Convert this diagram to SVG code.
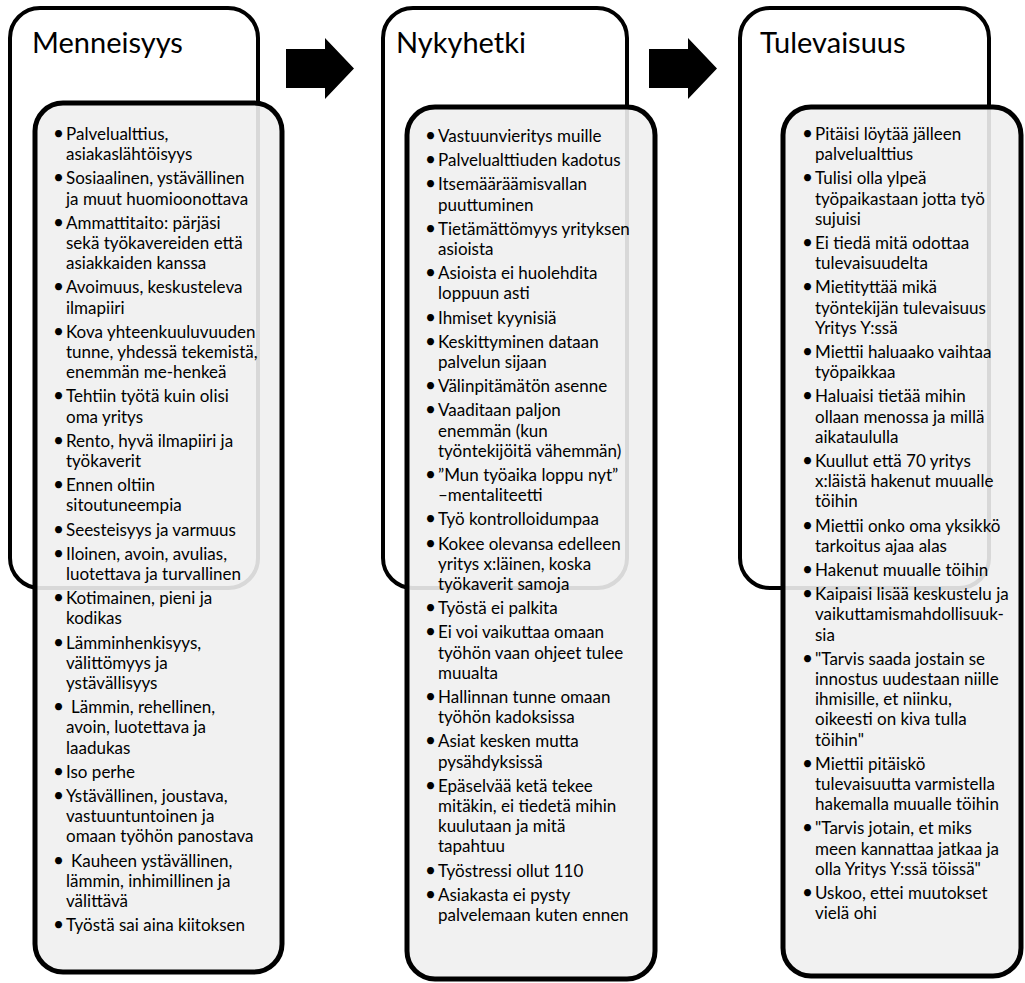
<svg xmlns="http://www.w3.org/2000/svg" width="1025" height="983" viewBox="0 0 1025 983">
<style>
.outer{fill:#ffffff;stroke:#000;stroke-width:4}
.inner{fill:#f0f0f0;fill-opacity:0.9;stroke:#000;stroke-width:5}
.title{font-family:Lato,"Liberation Sans",sans-serif;font-size:29px;fill:#000}
.b{font-family:Lato,"Liberation Sans",sans-serif;font-size:17px;fill:#000}
.d{font-size:19px}
.arrow{fill:#000}
</style>
<rect width="1025" height="983" fill="#fff"/>
<g id="connectors">
<polygon class="arrow" points="286,49 325,49 325,38 354,68.5 325,99 325,88 286,88"/>
<polygon class="arrow" points="649,49 688,49 688,38 717,68.5 688,99 688,88 649,88"/>
</g>
<g id="menneisyys">
<rect class="outer" x="10" y="8" width="248" height="580" rx="30"/>
<text class="title" x="32" y="53">Menneisyys</text>
<rect class="inner" x="35" y="103" width="247" height="869" rx="28"/>
<text class="b" y="140"><tspan class="d" x="53">•</tspan><tspan x="66">Palvelualttius,</tspan><tspan x="66" dy="20.2">asiakaslähtöisyys</tspan></text>
<text class="b" y="184.4"><tspan class="d" x="53">•</tspan><tspan x="66">Sosiaalinen, ystävällinen</tspan><tspan x="66" dy="20.2">ja muut huomioonottava</tspan></text>
<text class="b" y="228.8"><tspan class="d" x="53">•</tspan><tspan x="66">Ammattitaito: pärjäsi</tspan><tspan x="66" dy="20.2">sekä työkavereiden että</tspan><tspan x="66" dy="20.2">asiakkaiden kanssa</tspan></text>
<text class="b" y="293.4"><tspan class="d" x="53">•</tspan><tspan x="66">Avoimuus, keskusteleva</tspan><tspan x="66" dy="20.2">ilmapiiri</tspan></text>
<text class="b" y="337.8"><tspan class="d" x="53">•</tspan><tspan x="66">Kova yhteenkuuluvuuden</tspan><tspan x="66" dy="20.2">tunne, yhdessä tekemistä,</tspan><tspan x="66" dy="20.2">enemmän me-henkeä</tspan></text>
<text class="b" y="402.4"><tspan class="d" x="53">•</tspan><tspan x="66">Tehtiin työtä kuin olisi</tspan><tspan x="66" dy="20.2">oma yritys</tspan></text>
<text class="b" y="446.8"><tspan class="d" x="53">•</tspan><tspan x="66">Rento, hyvä ilmapiiri ja</tspan><tspan x="66" dy="20.2">työkaverit</tspan></text>
<text class="b" y="491.2"><tspan class="d" x="53">•</tspan><tspan x="66">Ennen oltiin</tspan><tspan x="66" dy="20.2">sitoutuneempia</tspan></text>
<text class="b" y="535.6"><tspan class="d" x="53">•</tspan><tspan x="66">Seesteisyys ja varmuus</tspan></text>
<text class="b" y="559.8"><tspan class="d" x="53">•</tspan><tspan x="66">Iloinen, avoin, avulias,</tspan><tspan x="66" dy="20.2">luotettava ja turvallinen</tspan></text>
<text class="b" y="604.2"><tspan class="d" x="53">•</tspan><tspan x="66">Kotimainen, pieni ja</tspan><tspan x="66" dy="20.2">kodikas</tspan></text>
<text class="b" y="648.6"><tspan class="d" x="53">•</tspan><tspan x="66">Lämminhenkisyys,</tspan><tspan x="66" dy="20.2">välittömyys ja</tspan><tspan x="66" dy="20.2">ystävällisyys</tspan></text>
<text class="b" y="713.2"><tspan class="d" x="53">•</tspan><tspan x="71">Lämmin, rehellinen,</tspan><tspan x="66" dy="20.2">avoin, luotettava ja</tspan><tspan x="66" dy="20.2">laadukas</tspan></text>
<text class="b" y="777.8"><tspan class="d" x="53">•</tspan><tspan x="66">Iso perhe</tspan></text>
<text class="b" y="802"><tspan class="d" x="53">•</tspan><tspan x="66">Ystävällinen, joustava,</tspan><tspan x="66" dy="20.2">vastuuntuntoinen ja</tspan><tspan x="66" dy="20.2">omaan työhön panostava</tspan></text>
<text class="b" y="866.6"><tspan class="d" x="53">•</tspan><tspan x="71">Kauheen ystävällinen,</tspan><tspan x="66" dy="20.2">lämmin, inhimillinen ja</tspan><tspan x="66" dy="20.2">välittävä</tspan></text>
<text class="b" y="931.2"><tspan class="d" x="53">•</tspan><tspan x="66">Työstä sai aina kiitoksen</tspan></text>
</g>
<g id="nykyhetki">
<rect class="outer" x="383" y="8" width="244" height="580" rx="30"/>
<text class="title" x="396" y="53">Nykyhetki</text>
<rect class="inner" x="407" y="107" width="248" height="872" rx="28"/>
<text class="b" y="142"><tspan class="d" x="425">•</tspan><tspan x="438">Vastuunvieritys muille</tspan></text>
<text class="b" y="166.2"><tspan class="d" x="425">•</tspan><tspan x="438">Palvelualttiuden kadotus</tspan></text>
<text class="b" y="190.4"><tspan class="d" x="425">•</tspan><tspan x="438">Itsemääräämisvallan</tspan><tspan x="438" dy="20.2">puuttuminen</tspan></text>
<text class="b" y="234.8"><tspan class="d" x="425">•</tspan><tspan x="438">Tietämättömyys yrityksen</tspan><tspan x="438" dy="20.2">asioista</tspan></text>
<text class="b" y="279.2"><tspan class="d" x="425">•</tspan><tspan x="438">Asioista ei huolehdita</tspan><tspan x="438" dy="20.2">loppuun asti</tspan></text>
<text class="b" y="323.6"><tspan class="d" x="425">•</tspan><tspan x="438">Ihmiset kyynisiä</tspan></text>
<text class="b" y="347.8"><tspan class="d" x="425">•</tspan><tspan x="438">Keskittyminen dataan</tspan><tspan x="438" dy="20.2">palvelun sijaan</tspan></text>
<text class="b" y="392.2"><tspan class="d" x="425">•</tspan><tspan x="438">Välinpitämätön asenne</tspan></text>
<text class="b" y="416.4"><tspan class="d" x="425">•</tspan><tspan x="438">Vaaditaan paljon</tspan><tspan x="438" dy="20.2">enemmän (kun</tspan><tspan x="438" dy="20.2">työntekijöitä vähemmän)</tspan></text>
<text class="b" y="481"><tspan class="d" x="425">•</tspan><tspan x="438">”Mun työaika loppu nyt”</tspan><tspan x="438" dy="20.2">–mentaliteetti</tspan></text>
<text class="b" y="525.4"><tspan class="d" x="425">•</tspan><tspan x="438">Työ kontrolloidumpaa</tspan></text>
<text class="b" y="549.6"><tspan class="d" x="425">•</tspan><tspan x="438">Kokee olevansa edelleen</tspan><tspan x="438" dy="20.2">yritys x:läinen, koska</tspan><tspan x="438" dy="20.2">työkaverit samoja</tspan></text>
<text class="b" y="614.2"><tspan class="d" x="425">•</tspan><tspan x="438">Työstä ei palkita</tspan></text>
<text class="b" y="638.4"><tspan class="d" x="425">•</tspan><tspan x="438">Ei voi vaikuttaa omaan</tspan><tspan x="438" dy="20.2">työhön vaan ohjeet tulee</tspan><tspan x="438" dy="20.2">muualta</tspan></text>
<text class="b" y="703"><tspan class="d" x="425">•</tspan><tspan x="438">Hallinnan tunne omaan</tspan><tspan x="438" dy="20.2">työhön kadoksissa</tspan></text>
<text class="b" y="747.4"><tspan class="d" x="425">•</tspan><tspan x="438">Asiat kesken mutta</tspan><tspan x="438" dy="20.2">pysähdyksissä</tspan></text>
<text class="b" y="791.8"><tspan class="d" x="425">•</tspan><tspan x="438">Epäselvää ketä tekee</tspan><tspan x="438" dy="20.2">mitäkin, ei tiedetä mihin</tspan><tspan x="438" dy="20.2">kuulutaan ja mitä</tspan><tspan x="438" dy="20.2">tapahtuu</tspan></text>
<text class="b" y="876.6"><tspan class="d" x="425">•</tspan><tspan x="438">Työstressi ollut 110</tspan></text>
<text class="b" y="900.8"><tspan class="d" x="425">•</tspan><tspan x="438">Asiakasta ei pysty</tspan><tspan x="438" dy="20.2">palvelemaan kuten ennen</tspan></text>
</g>
<g id="tulevaisuus">
<rect class="outer" x="740" y="8" width="249" height="580" rx="30"/>
<text class="title" x="760" y="53">Tulevaisuus</text>
<rect class="inner" x="783" y="107" width="238" height="869" rx="28"/>
<text class="b" y="140"><tspan class="d" x="802">•</tspan><tspan x="815">Pitäisi löytää jälleen</tspan><tspan x="815" dy="20.2">palvelualttius</tspan></text>
<text class="b" y="184.4"><tspan class="d" x="802">•</tspan><tspan x="815">Tulisi olla ylpeä</tspan><tspan x="815" dy="20.2">työpaikastaan jotta työ</tspan><tspan x="815" dy="20.2">sujuisi</tspan></text>
<text class="b" y="249"><tspan class="d" x="802">•</tspan><tspan x="815">Ei tiedä mitä odottaa</tspan><tspan x="815" dy="20.2">tulevaisuudelta</tspan></text>
<text class="b" y="293.4"><tspan class="d" x="802">•</tspan><tspan x="815">Mietityttää mikä</tspan><tspan x="815" dy="20.2">työntekijän tulevaisuus</tspan><tspan x="815" dy="20.2">Yritys Y:ssä</tspan></text>
<text class="b" y="358"><tspan class="d" x="802">•</tspan><tspan x="815">Miettii haluaako vaihtaa</tspan><tspan x="815" dy="20.2">työpaikkaa</tspan></text>
<text class="b" y="402.4"><tspan class="d" x="802">•</tspan><tspan x="815">Haluaisi tietää mihin</tspan><tspan x="815" dy="20.2">ollaan menossa ja millä</tspan><tspan x="815" dy="20.2">aikataululla</tspan></text>
<text class="b" y="467"><tspan class="d" x="802">•</tspan><tspan x="815">Kuullut että 70 yritys</tspan><tspan x="815" dy="20.2">x:läistä hakenut muualle</tspan><tspan x="815" dy="20.2">töihin</tspan></text>
<text class="b" y="531.6"><tspan class="d" x="802">•</tspan><tspan x="815">Miettii onko oma yksikkö</tspan><tspan x="815" dy="20.2">tarkoitus ajaa alas</tspan></text>
<text class="b" y="576"><tspan class="d" x="802">•</tspan><tspan x="815">Hakenut muualle töihin</tspan></text>
<text class="b" y="600.2"><tspan class="d" x="802">•</tspan><tspan x="815">Kaipaisi lisää keskustelu ja</tspan><tspan x="815" dy="20.2">vaikuttamismahdollisuuk-</tspan><tspan x="815" dy="20.2">sia</tspan></text>
<text class="b" y="664.8"><tspan class="d" x="802">•</tspan><tspan x="815">"Tarvis saada jostain se</tspan><tspan x="815" dy="20.2">innostus uudestaan niille</tspan><tspan x="815" dy="20.2">ihmisille, et niinku,</tspan><tspan x="815" dy="20.2">oikeesti on kiva tulla</tspan><tspan x="815" dy="20.2">töihin"</tspan></text>
<text class="b" y="769.8"><tspan class="d" x="802">•</tspan><tspan x="815">Miettii pitäiskö</tspan><tspan x="815" dy="20.2">tulevaisuutta varmistella</tspan><tspan x="815" dy="20.2">hakemalla muualle töihin</tspan></text>
<text class="b" y="834.4"><tspan class="d" x="802">•</tspan><tspan x="815">"Tarvis jotain, et miks</tspan><tspan x="815" dy="20.2">meen kannattaa jatkaa ja</tspan><tspan x="815" dy="20.2">olla Yritys Y:ssä töissä"</tspan></text>
<text class="b" y="899"><tspan class="d" x="802">•</tspan><tspan x="815">Uskoo, ettei muutokset</tspan><tspan x="815" dy="20.2">vielä ohi</tspan></text>
</g>
</svg>
